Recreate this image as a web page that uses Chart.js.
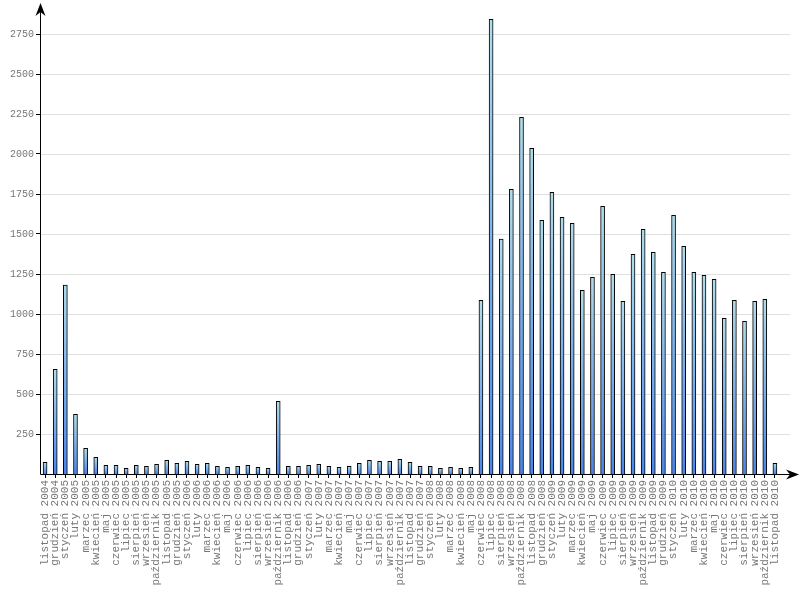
<!DOCTYPE html>
<html>
<head>
<meta charset="utf-8">
<script src="https://cdn.jsdelivr.net/npm/chart.js@4/dist/chart.umd.min.js"></script>
<style>
  html, body { margin: 0; padding: 0; background: #fff; }
  #wrap { width: 800px; height: 600px; }
</style>
</head>
<body>
<div id="wrap"><canvas id="chart" width="800" height="600"></canvas></div>
<script>
// month names, first month is listopad 2004
const monthNames = ['styczeń', 'luty', 'marzec', 'kwiecień', 'maj', 'czerwiec',
  'lipiec', 'sierpień', 'wrzesień', 'październik', 'listopad', 'grudzień'];

// one value per month, listopad 2004 .. listopad 2010
const counts = [
  73, 654,
  1181, 373, 160, 104, 54, 54, 35, 54, 48, 60, 85, 67,
  79, 60, 67, 48, 42, 48, 54, 42, 35, 454, 48, 48,
  54, 60, 48, 42, 48, 67, 85, 79, 79, 92, 73, 48,
  48, 35, 42, 35, 42, 1085, 2842, 1468, 1779, 2229, 2035, 1585,
  1760, 1604, 1567, 1148, 1229, 1673, 1248, 1079, 1373, 1529, 1385, 1260,
  1617, 1423, 1260, 1242, 1217, 973, 1085, 954, 1079, 1092, 67
];

const yTicks = [250, 500, 750, 1000, 1250, 1500, 1750, 2000, 2250, 2500, 2750];

const labels = [];
let m = 10, y = 2004;
for (let i = 0; i < counts.length; i++) {
  labels.push(monthNames[m] + ' ' + y);
  m++;
  if (m === 12) { m = 0; y++; }
}

// gradient per bar, light on top and blue at the base
function barFill(ctx) {
  const chart = ctx.chart;
  if (!chart.chartArea || ctx.parsed === undefined) return '#8fbfee';
  const ys = chart.scales.y;
  const top = ys.getPixelForValue(ctx.parsed.y);
  const base = ys.getPixelForValue(0);
  if (!isFinite(top) || base - top < 1) return '#8fbfee';
  const g = chart.ctx.createLinearGradient(0, top, 0, base);
  g.addColorStop(0, '#b0dcea');
  g.addColorStop(1, '#4a86ea');
  return g;
}

// grid lines and the two arrow axes
const axesPlugin = {
  id: 'arrowAxes',
  beforeDatasetsDraw(chart) {
    const c = chart.ctx, a = chart.chartArea, ys = chart.scales.y;
    c.save();
    c.strokeStyle = '#e0e0e0';
    c.lineWidth = 1;
    ys.ticks.forEach(t => {
      const py = Math.round(ys.getPixelForValue(t.value)) + 0.5;
      c.beginPath();
      c.moveTo(a.left, py);
      c.lineTo(a.right + 10, py);
      c.stroke();
    });
    c.restore();
  },
  afterDatasetsDraw(chart) {
    const c = chart.ctx, a = chart.chartArea;
    const x0 = a.left + 0.5, y0 = a.bottom + 0.5;
    c.save();
    c.strokeStyle = '#000';
    c.fillStyle = '#000';
    c.lineWidth = 1;
    c.beginPath();
    c.moveTo(x0, y0);
    c.lineTo(x0, 8);
    c.moveTo(x0, y0);
    c.lineTo(794, y0);
    c.stroke();
    // up arrow
    c.beginPath();
    c.moveTo(x0, 3);
    c.lineTo(x0 - 5, 16);
    c.lineTo(x0, 12);
    c.lineTo(x0 + 5, 16);
    c.closePath();
    c.fill();
    // right arrow
    c.beginPath();
    c.moveTo(799, y0);
    c.lineTo(786, y0 - 5);
    c.lineTo(790, y0);
    c.lineTo(786, y0 + 5);
    c.closePath();
    c.fill();
    c.restore();
  }
};

new Chart(document.getElementById('chart').getContext('2d'), {
  type: 'bar',
  data: {
    labels: labels,
    datasets: [{
      data: counts,
      backgroundColor: barFill,
      borderColor: '#000',
      borderWidth: 1,
      barThickness: 4
    }]
  },
  options: {
    responsive: false,
    animation: false,
    layout: { padding: { top: 10, right: 20, left: 0, bottom: 0 } },
    plugins: { legend: { display: false }, tooltip: { enabled: false } },
    scales: {
      x: {
        offset: true,
        border: { display: false },
        grid: { display: true, drawOnChartArea: false, offset: false, tickLength: 4, tickColor: '#000' },
        ticks: {
          autoSkip: false,
          minRotation: 90,
          maxRotation: 90,
          padding: 2,
          color: '#777',
          font: { family: 'Liberation Mono', size: 11 }
        },
        afterFit(scale) { scale.height = 126; }
      },
      y: {
        min: 0,
        max: 2900,
        border: { display: false },
        grid: { display: true, drawOnChartArea: false, tickLength: 4, tickColor: '#000' },
        afterBuildTicks(scale) { scale.ticks = yTicks.map(v => ({ value: v })); },
        ticks: {
          padding: 2,
          color: '#777',
          font: { family: 'Liberation Mono', size: 10 },
          callback: v => String(v)
        },
        afterFit(scale) { scale.width = 40; }
      }
    }
  },
  plugins: [axesPlugin]
});
</script>
</body>
</html>
